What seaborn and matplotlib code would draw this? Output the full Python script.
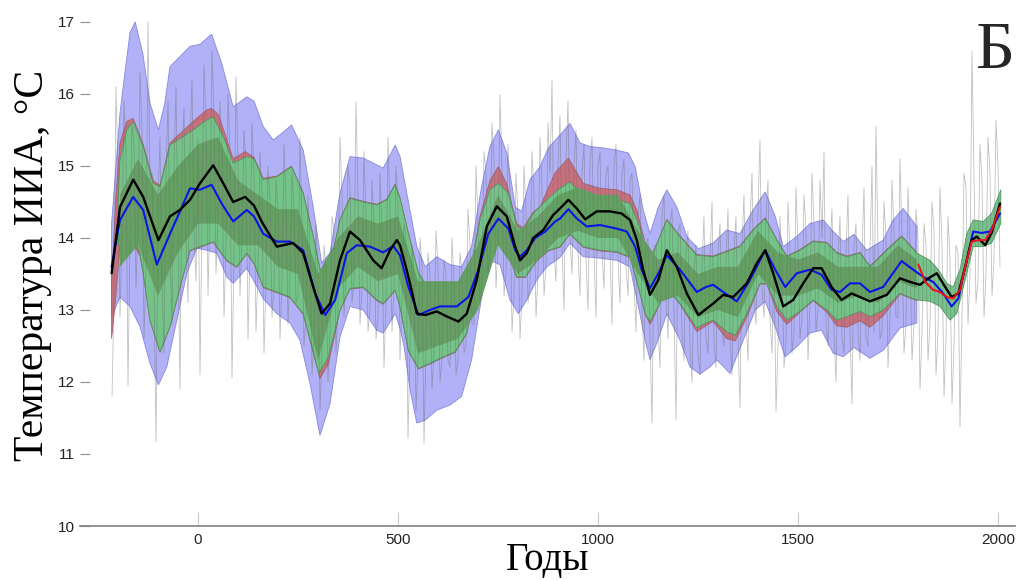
import numpy as np
import matplotlib
matplotlib.use("Agg")
import matplotlib.pyplot as plt
import seaborn as sns

# ---- smoothed reconstructions -------------------------------------------
black_year = [-216, -195, -162, -137, -99, -70, -45, -20, 5, 38, 63, 88, 118, 140, 160, 197, 238, 263,
              288, 309, 330, 355, 380, 405, 438, 459, 480, 497, 505, 522, 535, 547, 568, 597, 622, 651,
              672, 697, 722, 747, 772, 793, 805, 822, 838, 863, 888, 905, 926, 947, 968, 997, 1030, 1059,
              1080, 1097, 1113, 1130, 1151, 1172, 1197, 1222, 1251, 1288, 1313, 1338, 1372, 1397, 1418,
              1438, 1463, 1488, 1513, 1538, 1559, 1584, 1609, 1634, 1680, 1722, 1755, 1780, 1805, 1826,
              1847, 1868, 1884, 1901, 1918, 1934, 1947, 1968, 1984, 2005]
black_temp = [13.51, 14.43, 14.81, 14.57, 13.97, 14.30, 14.39, 14.53, 14.76, 15.01, 14.76, 14.50, 14.57,
              14.45, 14.22, 13.88, 13.93, 13.79, 13.32, 12.95, 13.09, 13.69, 14.09, 13.97, 13.69, 13.58,
              13.83, 13.97, 13.90, 13.55, 13.25, 12.95, 12.93, 12.98, 12.91, 12.84, 12.95, 13.42, 14.16,
              14.44, 14.30, 13.88, 13.69, 13.79, 14.00, 14.11, 14.32, 14.41, 14.53, 14.41, 14.26, 14.37,
              14.37, 14.34, 14.25, 13.97, 13.56, 13.21, 13.42, 13.83, 13.60, 13.23, 12.93, 13.09, 13.21,
              13.18, 13.37, 13.65, 13.83, 13.51, 13.05, 13.14, 13.37, 13.58, 13.58, 13.32, 13.14, 13.23,
              13.12, 13.21, 13.44, 13.39, 13.35, 13.44, 13.51, 13.32, 13.18, 13.23, 13.60, 13.97, 14.02,
              13.90, 14.07, 14.48]

blue_year = [-216, -195, -162, -137, -103, -70, -45, -20, 5, 34, 59, 88, 122, 140, 163, 197, 230, 263,
             293, 318, 343, 372, 397, 430, 463, 488, 505, 526, 551, 580, 605, 647, 676, 701, 726, 751,
             776, 793, 805, 822, 843, 868, 893, 905, 926, 947, 972, 1005, 1047, 1072, 1093, 1109, 1130,
             1151, 1172, 1205, 1247, 1270, 1288, 1318, 1347, 1380, 1418, 1443, 1468, 1497, 1530, 1559,
             1584, 1605, 1630, 1655, 1680, 1713, 1759, 1788, 1813, 1838, 1863, 1884, 1901, 1918, 1938,
             1959, 1980, 2005]
blue_temp = [13.60, 14.25, 14.57, 14.39, 13.63, 14.06, 14.37, 14.69, 14.67, 14.74, 14.48, 14.23, 14.39,
             14.30, 14.06, 13.95, 13.95, 13.83, 13.23, 12.93, 13.14, 13.79, 13.90, 13.88, 13.80, 13.89,
             13.76, 13.32, 12.93, 13.00, 13.05, 13.05, 13.18, 13.56, 14.06, 14.27, 14.13, 13.83, 13.74,
             13.83, 14.00, 14.09, 14.23, 14.27, 14.40, 14.27, 14.16, 14.18, 14.13, 14.09, 13.88, 13.56,
             13.30, 13.51, 13.76, 13.56, 13.25, 13.32, 13.35, 13.23, 13.12, 13.42, 13.83, 13.56, 13.32,
             13.51, 13.56, 13.49, 13.28, 13.25, 13.37, 13.37, 13.25, 13.32, 13.68, 13.56, 13.46, 13.39,
             13.23, 13.05, 13.16, 13.60, 14.09, 14.07, 14.09, 14.34]

red_year = [1801, 1818, 1838, 1855, 1872, 1888, 1905, 1918, 1934, 1951, 1968, 1984, 2005]
red_temp = [13.63, 13.39, 13.28, 13.25, 13.18, 13.16, 13.28, 13.60, 13.95, 13.97, 13.97, 14.11, 14.43]

# ---- uncertainty envelopes ----------------------------------------------
wide_hi_year = [-216, -205, -195, -187, -170, -157, -138, -120, -99, -83, -70, -45, -20, 5, 34, 59, 88,
                122, 140, 163, 188, 209, 234, 263, 288, 309, 330, 355, 380, 413, 438, 463, 493, 505, 522,
                547, 568, 597, 630, 659, 684, 709, 730, 751, 772, 793, 809, 830, 855, 876, 905, 930, 955,
                980, 1013, 1047, 1076, 1093, 1113, 1130, 1151, 1172, 1197, 1222, 1251, 1288, 1322, 1355,
                1388, 1418, 1443, 1463, 1497, 1530, 1563, 1588, 1613, 1640, 1672, 1713, 1738, 1763, 1797]
wide_hi_temp = [14.20, 15.00, 15.73, 16.10, 16.85, 17.00, 16.56, 15.87, 15.50, 15.87, 16.38, 16.52,
                16.66, 16.69, 16.83, 16.43, 15.82, 15.96, 15.90, 15.55, 15.36, 15.45, 15.57, 15.22, 14.43,
                13.65, 13.79, 14.62, 15.13, 15.11, 15.04, 14.97, 15.29, 15.13, 14.62, 13.88, 13.60, 13.74,
                13.63, 13.60, 13.88, 14.71, 15.27, 15.50, 15.18, 14.43, 14.37, 14.81, 14.99, 15.25, 15.43,
                15.59, 15.32, 15.27, 15.25, 15.22, 15.18, 14.99, 14.39, 14.06, 14.43, 14.67, 14.43, 14.02,
                13.85, 13.93, 14.11, 14.06, 14.39, 14.64, 14.30, 13.88, 14.02, 14.20, 14.25, 14.09, 13.95,
                14.05, 13.83, 13.97, 14.25, 14.41, 14.16]
wide_lo_year = [-216, -195, -170, -145, -120, -99, -78, -53, -28, -3, 22, 47, 72, 88, 122, 140, 163,
                197, 230, 255, 280, 305, 330, 355, 380, 413, 447, 463, 493, 505, 515, 530, 547, 568, 597,
                630, 659, 684, 709, 730, 755, 780, 801, 822, 847, 872, 905, 930, 963, 1005, 1047, 1080,
                1101, 1118, 1130, 1147, 1172, 1205, 1230, 1255, 1280, 1297, 1330, 1363, 1393, 1418, 1443,
                1468, 1497, 1530, 1559, 1588, 1613, 1640, 1680, 1713, 1755, 1797]
wide_lo_temp = [12.90, 13.18, 13.05, 12.77, 12.26, 11.96, 12.21, 12.86, 13.51, 13.86, 13.83, 13.79,
                13.46, 13.37, 13.58, 13.40, 13.16, 12.95, 12.82, 12.58, 11.98, 11.26, 11.70, 12.63, 13.05,
                13.00, 12.72, 12.68, 12.95, 12.75, 12.50, 11.90, 11.43, 11.47, 11.61, 11.68, 11.80, 12.31,
                13.18, 13.69, 13.63, 13.14, 12.95, 13.14, 13.42, 13.60, 13.73, 13.93, 13.74, 13.72, 13.69,
                13.60, 13.05, 12.58, 12.31, 12.54, 12.95, 12.58, 12.21, 12.11, 12.21, 12.31, 12.12, 12.58,
                13.00, 13.12, 12.77, 12.35, 12.49, 12.68, 12.72, 12.40, 12.35, 12.48, 12.33, 12.44, 12.75,
                12.82]

mid_hi_year = [-216, -205, -195, -178, -162, -137, -112, -95, -70, -45, -12, 22, 34, 50, 63, 88, 118,
               140, 163, 197, 234, 263, 288, 309, 330, 355, 380, 413, 447, 472, 493, 505, 526, 551, 572,
               605, 647, 680, 705, 730, 751, 772, 797, 813, 838, 855, 892, 926, 963, 1005, 1047, 1080,
               1097, 1122, 1138, 1172, 1205, 1247, 1288, 1322, 1355, 1388, 1418, 1447, 1472, 1505, 1538,
               1572, 1597, 1622, 1655, 1680, 1722, 1759, 1797]
mid_hi_temp = [13.40, 14.60, 15.32, 15.62, 15.66, 15.30, 14.80, 14.73, 15.32, 15.45, 15.62, 15.78,
               15.80, 15.72, 15.52, 15.10, 15.20, 15.12, 14.83, 14.86, 15.00, 14.63, 14.03, 13.47, 13.61,
               14.26, 14.56, 14.51, 14.47, 14.54, 14.75, 14.56, 14.07, 13.52, 13.33, 13.38, 13.33, 13.52,
               14.30, 14.80, 14.99, 14.75, 14.20, 14.14, 14.36, 14.43, 14.90, 15.11, 14.76, 14.69, 14.67,
               14.60, 14.39, 13.84, 13.80, 14.26, 14.03, 13.77, 13.75, 13.82, 13.89, 14.12, 14.28, 13.98,
               13.75, 13.84, 13.96, 13.94, 13.80, 13.75, 13.80, 13.61, 13.84, 14.03, 13.80]
mid_lo_year = [-216, -205, -195, -185, -170, -145, -137, -120, -95, -70, -45, -20, 5, 38, 72, 97, 122,
               140, 163, 197, 230, 263, 288, 305, 326, 355, 380, 413, 447, 463, 493, 505, 526, 551, 580,
               613, 643, 672, 697, 722, 747, 772, 797, 818, 847, 876, 905, 930, 963, 1005, 1047, 1080,
               1101, 1118, 1130, 1151, 1172, 1205, 1247, 1270, 1288, 1322, 1343, 1372, 1405, 1422, 1447,
               1472, 1505, 1538, 1572, 1597, 1622, 1655, 1680, 1713, 1755, 1797]
mid_lo_temp = [12.60, 13.20, 13.90, 14.00, 14.00, 13.75, 13.50, 12.85, 12.41, 12.76, 13.31, 13.82,
               13.87, 13.94, 13.68, 13.59, 13.78, 13.64, 13.31, 13.24, 13.17, 12.94, 12.40, 12.05, 12.25,
               12.99, 13.29, 13.31, 13.13, 13.08, 13.27, 13.04, 12.43, 12.18, 12.25, 12.34, 12.41, 12.67,
               13.31, 13.96, 14.05, 13.82, 13.45, 13.45, 13.68, 13.82, 13.87, 14.05, 13.87, 13.82, 13.80,
               13.73, 13.31, 12.94, 12.80, 13.04, 13.31, 13.08, 12.70, 12.78, 12.84, 12.60, 12.57, 12.90,
               13.36, 13.36, 12.98, 12.80, 12.97, 13.13, 12.97, 12.78, 12.76, 12.85, 12.76, 12.92, 13.22,
               13.13]

green_hi_year = [-200, -195, -178, -162, -137, -112, -95, -70, -45, -12, 22, 38, 63, 88, 122, 140, 163,
                 197, 234, 263, 288, 309, 330, 355, 380, 413, 447, 472, 493, 505, 526, 551, 572, 605, 647,
                 680, 705, 730, 751, 776, 797, 813, 838, 872, 905, 930, 963, 1005, 1047, 1080, 1101, 1122,
                 1138, 1172, 1205, 1247, 1288, 1322, 1355, 1388, 1418, 1447, 1472, 1505, 1538, 1572, 1597,
                 1622, 1655, 1680, 1722, 1759, 1797, 1830, 1851, 1872, 1888, 1905, 1922, 1938, 1963, 1984,
                 2007]
green_hi_temp = [14.50, 15.08, 15.50, 15.62, 15.27, 14.76, 14.71, 15.29, 15.38, 15.50, 15.64, 15.68,
                 15.41, 15.04, 15.13, 15.10, 14.81, 14.85, 14.99, 14.62, 14.02, 13.46, 13.60, 14.25, 14.55,
                 14.50, 14.46, 14.53, 14.74, 14.55, 14.06, 13.51, 13.32, 13.37, 13.32, 13.51, 14.25, 14.67,
                 14.76, 14.62, 14.16, 14.11, 14.34, 14.53, 14.69, 14.78, 14.57, 14.55, 14.53, 14.48, 14.20,
                 13.83, 13.79, 14.25, 14.02, 13.76, 13.74, 13.81, 13.88, 14.11, 14.27, 13.97, 13.74, 13.83,
                 13.95, 13.93, 13.79, 13.74, 13.79, 13.60, 13.83, 14.02, 13.79, 13.69, 13.56, 13.37, 13.32,
                 13.56, 14.06, 14.25, 14.23, 14.34, 14.67]
green_lo_year = [-200, -195, -170, -145, -137, -120, -95, -70, -45, -20, 5, 38, 72, 97, 122, 140, 163,
                 197, 230, 263, 288, 302, 326, 355, 380, 413, 447, 463, 493, 505, 526, 551, 580, 613, 643,
                 672, 697, 722, 747, 772, 797, 818, 847, 876, 905, 930, 963, 1005, 1047, 1080, 1101, 1118,
                 1130, 1151, 1172, 1205, 1247, 1270, 1288, 1322, 1343, 1372, 1405, 1422, 1447, 1472, 1505,
                 1538, 1572, 1597, 1622, 1655, 1680, 1713, 1755, 1797, 1830, 1855, 1880, 1897, 1918, 1938,
                 1963, 1984, 2007]
green_lo_temp = [13.90, 14.07, 14.11, 13.79, 13.51, 12.86, 12.42, 12.77, 13.32, 13.83, 13.88, 13.95,
                 13.69, 13.60, 13.79, 13.65, 13.32, 13.25, 13.18, 12.95, 12.44, 12.12, 12.35, 13.00, 13.30,
                 13.32, 13.14, 13.09, 13.28, 13.05, 12.44, 12.19, 12.26, 12.35, 12.42, 12.68, 13.32, 13.97,
                 14.06, 13.83, 13.46, 13.46, 13.69, 13.83, 13.88, 14.06, 13.88, 13.83, 13.81, 13.74, 13.32,
                 12.95, 12.84, 13.05, 13.32, 13.09, 12.75, 12.82, 12.86, 12.70, 12.65, 12.95, 13.37, 13.37,
                 13.05, 12.86, 12.98, 13.14, 13.00, 12.86, 12.91, 12.98, 12.91, 13.00, 13.23, 13.14, 13.12,
                 13.05, 12.86, 12.95, 13.42, 13.88, 13.88, 13.93, 14.20]

core_year = [-195, -150, -100, -50, 0, 50, 100, 150, 200, 250, 300, 350, 400, 450, 500, 550, 600, 650,
             700, 750, 800, 850, 900, 950, 1000, 1050, 1100, 1150, 1200, 1250, 1300, 1350, 1400, 1450,
             1500, 1550, 1600, 1650, 1700, 1750, 1797]
core_hi = [14.60, 15.10, 14.60, 15.00, 15.30, 15.40, 14.80, 14.60, 14.40, 14.40, 13.50, 14.00, 14.30,
           14.20, 14.30, 13.40, 13.40, 13.40, 13.90, 14.60, 14.10, 14.30, 14.60, 14.70, 14.60, 14.60,
           14.10, 13.70, 13.80, 13.50, 13.60, 13.60, 14.10, 13.80, 13.70, 13.80, 13.60, 13.60, 13.60,
           13.90, 13.70]
core_lo = [13.60, 13.90, 13.20, 13.80, 14.20, 14.20, 13.90, 13.90, 13.60, 13.50, 12.30, 13.30, 13.60,
           13.40, 13.50, 12.40, 12.50, 12.60, 13.00, 13.90, 13.50, 13.70, 14.00, 14.10, 14.00, 14.00,
           13.50, 13.10, 13.20, 12.90, 13.00, 12.90, 13.50, 13.20, 13.20, 13.30, 13.10, 13.20, 13.10,
           13.40, 13.30]

# ---- raw proxy series: decadal samples, two interleaved sets -------------
raw_a_temp = [11.80, 16.10, 12.90, 15.90, 11.95, 15.60, 13.30, 16.30, 12.60, 17.00, 14.90, 11.17, 15.40,
              12.40, 15.90, 12.80, 16.10, 11.90, 15.80, 13.10, 16.20, 13.40, 12.10, 16.40, 13.20, 16.60,
              13.50, 15.90, 12.90, 16.00, 12.05, 16.24, 13.20, 15.50, 12.60, 15.60, 12.70, 15.20, 12.40,
              15.00, 12.90, 14.80, 12.60, 15.30, 12.80, 14.90, 13.10, 15.40, 12.50, 14.60, 12.10, 14.20,
              11.60, 13.90, 12.00, 14.30, 12.40, 15.40, 12.90, 15.00, 13.10, 15.89, 12.80, 15.20, 12.70,
              14.80, 12.60, 14.90, 12.20, 15.40, 12.70, 15.00, 12.30, 14.20, 11.22, 13.90, 11.60, 14.00,
              11.15, 13.80, 11.90, 14.10, 12.00, 13.70, 12.30, 14.00, 12.10, 13.80, 12.40, 14.40, 12.80,
              15.00, 13.10, 15.20, 13.50, 15.60, 13.30, 15.99, 13.20, 15.30, 12.70, 14.90, 12.60, 15.00,
              13.10, 15.20, 12.90, 15.40, 13.20, 15.60, 16.19, 13.40, 15.70, 13.00, 15.90, 13.50, 15.50,
              13.20, 15.30, 13.00, 15.40, 12.90, 15.20, 13.30, 15.00, 12.80, 15.30, 13.10, 15.10, 13.20,
              14.90, 12.70, 14.60, 12.30, 14.00, 11.43, 13.90, 12.20, 14.60, 12.60, 14.40, 11.47, 14.20,
              12.30, 14.10, 12.00, 13.90, 12.10, 14.30, 12.40, 14.50, 12.20, 14.20, 12.50, 14.40, 12.10,
              14.30, 11.64, 14.60, 12.30, 14.90, 12.80, 15.36, 12.90, 14.80, 12.40, 11.59, 14.30, 12.20,
              14.50, 12.40, 14.70, 12.60, 14.60, 12.30, 14.90, 12.70, 14.80, 15.20, 12.50, 14.40, 12.00,
              14.30, 12.40, 14.60, 11.70, 14.20, 12.30, 14.70, 12.50, 15.00, 15.55, 12.60, 14.50, 12.20,
              14.80, 12.90, 15.10, 12.40, 14.70, 12.30, 14.40, 11.90, 14.20, 12.30, 14.50, 12.10, 14.70,
              11.80, 14.30, 11.70, 13.90, 11.38, 14.90, 12.80, 16.59, 13.10, 15.30, 12.90, 15.40, 13.20,
              15.64, 13.60]
raw_b_temp = [13.2, 14.9, 14.1, 15.2, 14.0, 15.3, 14.2, 15.5, 13.6, 14.8,
              13.3, 14.5, 13.4, 14.9, 13.8, 15.0, 13.9, 15.2, 14.0, 15.3,
              14.1, 15.4, 14.2, 15.6, 14.4, 15.7, 14.3, 15.3, 13.9, 15.2,
              13.8, 15.1, 14.0, 15.0, 13.8, 14.9, 13.6, 14.6, 13.4, 14.5,
              13.3, 14.4, 13.4, 14.5, 13.5, 14.4, 13.2, 14.2, 12.9, 13.8,
              12.6, 13.5, 12.4, 13.6, 12.7, 14.1, 13.1, 14.6, 13.5, 14.7,
              13.4, 14.6, 13.3, 14.3, 13.0, 14.2, 12.9, 14.1, 13.1, 14.4,
              13.3, 14.5, 13.2, 14.0, 12.5, 13.5, 12.3, 13.6, 12.4, 13.5,
              12.4, 13.6, 12.3, 13.5, 12.2, 13.4, 12.3, 13.5, 12.5, 13.9,
              12.8, 14.2, 13.4, 14.9, 13.8, 15.1, 13.9, 14.9, 13.5, 14.6,
              13.2, 14.3, 13.2, 14.4, 13.4, 14.6, 13.5, 14.7, 13.6, 14.9,
              13.8, 15.0, 13.9, 15.1, 14.0, 15.0, 13.8, 14.9, 13.7, 15.0,
              13.8, 15.0, 13.8, 14.9, 13.8, 15.0, 13.7, 14.9, 13.6, 14.8,
              13.4, 14.3, 13.0, 13.9, 12.6, 13.9, 12.8, 14.3, 13.2, 14.2,
              13.0, 14.1, 12.7, 13.8, 12.5, 13.5, 12.4, 13.6, 12.6, 13.7,
              12.6, 13.8, 12.7, 13.7, 12.6, 13.8, 12.6, 13.9, 12.9, 14.2,
              13.2, 14.4, 13.3, 14.3, 12.9, 13.8, 12.5, 13.6, 12.6, 13.8,
              12.7, 13.9, 12.9, 14.1, 13.1, 14.2, 13.0, 14.0, 12.8, 13.9,
              12.7, 13.7, 12.6, 13.8, 12.7, 13.9, 12.7, 13.8, 12.6, 13.8,
              12.7, 13.9, 12.7, 14.0, 12.9, 14.1, 12.9, 14.0, 12.8, 13.9,
              12.8, 14.0, 12.7, 13.9, 12.8, 14.1, 12.7, 13.9, 12.6, 13.7,
              12.5, 13.8, 12.9, 14.7, 13.5, 14.9, 13.4, 14.8, 13.5, 14.9,
              13.7, 15.0]
raw_year = np.concatenate([-215 + 10 * np.arange(len(raw_a_temp)),
                           -210 + 10 * np.arange(len(raw_b_temp))])
raw_temp = np.concatenate([raw_a_temp, raw_b_temp])
order = np.argsort(raw_year)
raw_year, raw_temp = raw_year[order], raw_temp[order]

# ---- figure ---------------------------------------------------------------
sns.set_theme(style="white")
plt.rcParams["font.family"] = ["Liberation Sans", "DejaVu Sans"]
SERIF = ["Liberation Serif", "DejaVu Serif"]

fig = plt.figure(figsize=(10.18, 5.80), dpi=100)
ax = fig.add_axes([80 / 1018, 54 / 580, 935 / 1018, 521 / 580])


def envelope(ax, hx, hy, lx, ly, face, edge, lw=0.6, z=1):
    xs = np.concatenate([np.asarray(hx, float), np.asarray(lx, float)[::-1]])
    ys = np.concatenate([np.asarray(hy, float), np.asarray(ly, float)[::-1]])
    ax.fill(xs, ys, facecolor=face, edgecolor=edge, linewidth=lw, zorder=z)


envelope(ax, wide_hi_year, wide_hi_temp, wide_lo_year, wide_lo_temp, "#b1b1f7", "#8f8fe0", 0.7, 1)
envelope(ax, mid_hi_year, mid_hi_temp, mid_lo_year, mid_lo_temp, "#c6707e", "#a05a66", 0.5, 2)
envelope(ax, green_hi_year, green_hi_temp, green_lo_year, green_lo_temp, "#74c48a", "#4e9a5e", 0.6, 3)
envelope(ax, core_year, core_hi, core_year, core_lo, "#64a062", "#64a062", 0.0, 4)

sns.lineplot(x=raw_year, y=raw_temp, ax=ax, color="#6a6a6a", linewidth=0.55, alpha=0.45,
             sort=False, estimator=None, zorder=5)
sns.lineplot(x=blue_year, y=blue_temp, ax=ax, color="#0a14e6", linewidth=1.5,
             sort=False, estimator=None, zorder=6)
sns.lineplot(x=black_year, y=black_temp, ax=ax, color="black", linewidth=1.7,
             sort=False, estimator=None, zorder=7)
sns.lineplot(x=red_year, y=red_temp, ax=ax, color="#e8141e", linewidth=1.5,
             sort=False, estimator=None, zorder=8)

ax.set_xlim(-295, 2042.5)
ax.set_ylim(10, 17.236)
ax.set_xticks([0, 500, 1000, 1500, 2000])
ax.set_yticks(list(range(10, 18)))
ax.tick_params(axis="x", direction="in", length=10, width=0.8, color="#c8c8c8",
               labelsize=11, labelcolor="#222222", pad=5, bottom=True)
ax.tick_params(axis="y", direction="in", length=7, width=0.8, color="#909090",
               labelsize=11, labelcolor="#222222", pad=4, left=True)
for side in ("top", "right", "left"):
    ax.spines[side].set_visible(False)
ax.spines["bottom"].set_color("#808080")
ax.spines["bottom"].set_linewidth(1.2)
ax.grid(False)

ax.set_ylabel("Температура ИИА, °С", fontsize=30, family=SERIF, color="black")
ax.yaxis.set_label_coords(-0.030, 0.5)
ax.set_xlabel("Годы", fontsize=28, family=SERIF, color="black", va="baseline")
ax.xaxis.set_label_coords(0.5, -0.0845)

fig.text(975 / 1018, 1 - 68 / 580, "Б", fontsize=49, family=SERIF, ha="left", va="baseline")

fig.savefig("out.png", dpi=100)
